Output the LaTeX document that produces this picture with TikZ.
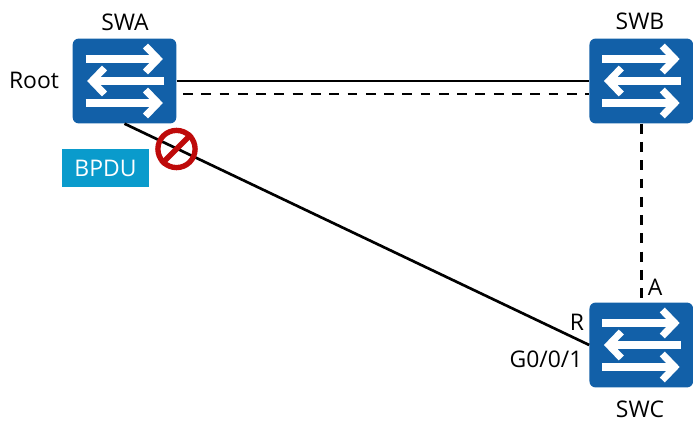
\documentclass[tikz,border=0pt]{standalone}
\usepackage{fontspec}
\setmainfont{Open Sans}
\definecolor{swblue}{HTML}{1260A8}
\definecolor{bpdublue}{HTML}{0A9BCC}
\definecolor{stopred}{HTML}{BE0A0A}

\begin{document}
\begin{tikzpicture}[x=0.025cm,y=0.025cm,
  switch/.style={fill=swblue,rounded corners=0.15cm,inner sep=0pt,minimum width=2.59cm,minimum height=2.12cm},
  label/.style={font=\fontsize{16.3}{19}\selectfont,inner sep=0pt},
  link/.style={black,line width=1.9pt},
  blocked/.style={link,dash pattern=on 7pt off 6pt},
  flow/.style={white,line width=5pt,miter limit=10}]
\useasboundingbox (0,0) rectangle (693,423);

\node[switch] at (124.5,342) (swa) {};
\node[switch] at (641.3,342) (swb) {};
\node[switch] at (641.3,78) (swc) {};

\node[label] at (125,401) (swaname) {SWA};
\node[label] at (640,402) (swbname) {SWB};
\node[label] at (640,14) (swcname) {SWC};
\node[label] at (34,343) (root) {Root};
\node[label] at (577,101) (rport) {R};
\node[label] at (655,136) (aport) {A};
\node[label] at (546,64) (gport) {G0/0/1};
\node[fill=bpdublue,text=white,label,minimum width=2.17cm,minimum height=0.97cm] at (105.5,255) (bpdu) {BPDU};

% arrows inside the switches
\foreach \sw in {swa,swb,swc} {
  \begin{scope}[shift={(\sw.center)}]
    \draw[flow] (-39,22) -- (33,22);
    \draw[flow] (21,35) -- (33.5,22) -- (21,9);
    \draw[flow] (39.5,0) -- (-32,0);
    \draw[flow] (-20,13) -- (-32.5,0) -- (-20,-13);
    \draw[flow] (-39,-22) -- (33,-22);
    \draw[flow] (21,-9) -- (33.5,-22) -- (21,-35);
  \end{scope}
}

\coordinate (dasha) at (183,329);
\coordinate (dashb) at (589,329);

\draw[link] (swa.east) -- (swb.west);
\draw[blocked] (dasha) -- (dashb);
\draw[blocked] (swb.south) -- (swc.north);
\draw[link] (swa.south) -- (swc.west);

\node[circle,draw=stopred,line width=3.8pt,minimum size=0.93cm,inner sep=0pt] at (176.5,274) (stopsign) {};
\draw[stopred,line width=3.8pt] (stopsign.45) -- (stopsign.225);
\end{tikzpicture}
\end{document}
